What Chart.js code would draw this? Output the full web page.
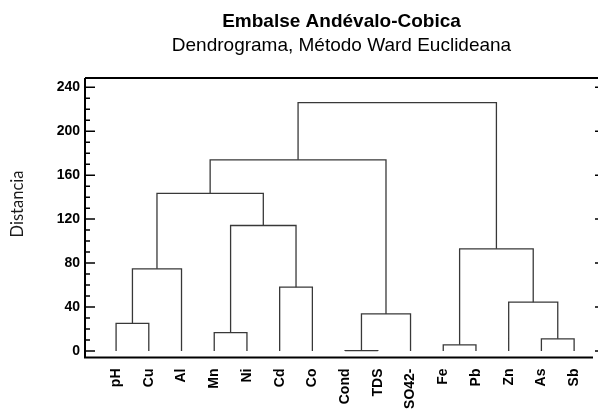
<!DOCTYPE html>
<html lang="es">
<head>
<meta charset="utf-8">
<title>Embalse Andévalo-Cobica</title>
<script src="https://cdn.jsdelivr.net/npm/chart.js@4/dist/chart.umd.min.js"></script>
<style>
  html, body { margin: 0; padding: 0; background: #fff; }
</style>
</head>
<body>
<canvas id="dendrograma" width="598" height="409"></canvas>
<script>
// hojas del dendrograma, en el orden del eje X
const variables = ['pH', 'Cu', 'Al', 'Mn', 'Ni', 'Cd', 'Co', 'Cond', 'TDS', 'SO42-', 'Fe', 'Pb', 'Zn', 'As', 'Sb'];

// uniones (Ward): nodo izquierdo, nodo derecho y distancia
// nodos 0-14 = variables, la union k crea el nodo 15 + k
const nodoIzq   = [7, 10, 13, 3, 0, 15, 12, 5, 19, 16, 18, 23, 26, 27];
const nodoDer   = [8, 11, 14, 4, 1, 9, 17, 6, 2, 21, 22, 25, 20, 24];
const distancia = [0.3, 5.5, 11, 16.7, 25, 33.7, 44.4, 58, 74.7, 93, 114.2, 143.4, 174, 226];

const ticksY = [0, 40, 80, 120, 160, 200, 240];

const fuente = "'Liberation Sans', Arial, sans-serif";

// posicion y altura de cada nodo, las uniones se dibujan como una "U" invertida
const posX = variables.map((_, i) => i + 1);
const altura = variables.map(() => 0);
const tramos = nodoIzq.map((a, k) => {
  const b = nodoDer[k];
  const h = distancia[k];
  const puntos = [
    { x: posX[a], y: altura[a] },
    { x: posX[a], y: h },
    { x: posX[b], y: h },
    { x: posX[b], y: altura[b] },
  ];
  posX.push((posX[a] + posX[b]) / 2);
  altura.push(h);
  return {
    data: puntos,
    borderColor: '#383838',
    borderWidth: 1.3,
    pointRadius: 0,
    fill: false,
    tension: 0,
  };
});

// marco, marcas del eje Y hacia dentro y titulo del eje
const marco = {
  id: 'marco',
  afterDatasetsDraw(chart) {
    const { ctx, chartArea: ca, scales: { y } } = chart;
    ctx.save();
    ctx.strokeStyle = '#000';
    ctx.lineWidth = 1.5;
    ctx.beginPath();
    for (let v = 0; v <= 240; v += 10) {
      const py = y.getPixelForValue(v);
      const largo = v % 40 === 0 ? 10 : 5;
      ctx.moveTo(ca.left, py);
      ctx.lineTo(ca.left + largo, py);
      if (v % 40 === 0) {
        ctx.moveTo(ca.right - 3, py);
        ctx.lineTo(ca.right, py);
      }
    }
    ctx.stroke();

    ctx.lineWidth = 2;
    ctx.beginPath();
    ctx.moveTo(ca.left, ca.top);
    ctx.lineTo(ca.right, ca.top);
    ctx.moveTo(ca.left, ca.top);
    ctx.lineTo(ca.left, ca.bottom);
    ctx.lineTo(ca.right - 5, ca.bottom);
    ctx.stroke();

    ctx.translate(18, 204);
    ctx.rotate(-Math.PI / 2);
    ctx.fillStyle = '#1a1a1a';
    ctx.font = '16.5px Lato';
    ctx.textAlign = 'center';
    ctx.textBaseline = 'middle';
    ctx.fillText('Distancia', 0, 0);
    ctx.restore();
  }
};

new Chart(document.getElementById('dendrograma'), {
  type: 'line',
  data: { datasets: tramos },
  plugins: [marco],
  options: {
    responsive: false,
    animation: false,
    layout: { padding: 0 },
    plugins: {
      legend: { display: false },
      tooltip: { enabled: false },
      title: {
        display: true,
        text: 'Embalse Andévalo-Cobica',
        fullSize: false,
        color: '#000',
        font: { family: fuente, size: 19, weight: 'bold', lineHeight: 1.2 },
        padding: { top: 10, bottom: 0 },
      },
      subtitle: {
        display: true,
        text: 'Dendrograma, Método Ward Euclideana',
        fullSize: false,
        color: '#000',
        font: { family: fuente, size: 19, lineHeight: 1.2 },
        padding: { top: 2, bottom: 20.4 },
      },
    },
    scales: {
      x: {
        type: 'linear',
        min: 0.05,
        max: 15.73,
        grid: { display: false, drawTicks: false },
        border: { display: false },
        afterBuildTicks: (s) => { s.ticks = variables.map((_, i) => ({ value: i + 1 })); },
        afterFit: (s) => { s.height = 51.5; s.paddingLeft = 0; s.paddingRight = 0; },
        ticks: {
          autoSkip: false,
          minRotation: 90,
          maxRotation: 90,
          padding: 11,
          color: '#000',
          font: { family: fuente, size: 14, weight: 'bold' },
          callback: (v, i) => variables[i],
        },
      },
      y: {
        type: 'linear',
        min: -6,
        max: 248.5,
        grid: { display: false, drawTicks: false },
        border: { display: false },
        afterBuildTicks: (s) => { s.ticks = ticksY.map((v) => ({ value: v })); },
        afterFit: (s) => { s.width = 85; s.paddingTop = 0; s.paddingBottom = 0; },
        ticks: {
          padding: 5,
          color: '#000',
          font: { family: fuente, size: 14, weight: 'bold' },
        },
      },
    },
  },
});
</script>
</body>
</html>
